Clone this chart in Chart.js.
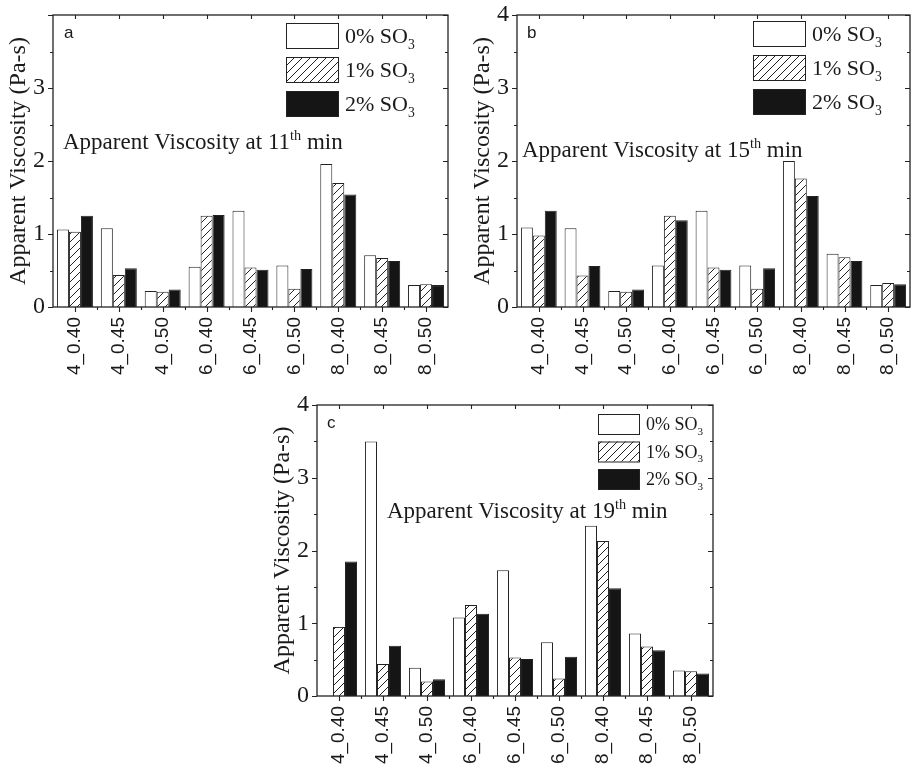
<!DOCTYPE html>
<html lang="en">
<head>
  <meta charset="UTF-8" />
  <title>Apparent Viscosity</title>
  <script src="https://cdn.jsdelivr.net/npm/chart.js"></script>
  <style>
    html, body { margin: 0; padding: 0; background: #fff; }
    body { width: 915px; height: 772px; position: relative; overflow: hidden; }
    canvas { position: absolute; }
  </style>
</head>
<body>
  <canvas id="chartA" width="460" height="385" style="left:0;top:0"></canvas>
  <canvas id="chartB" width="460" height="385" style="left:455px;top:0"></canvas>
  <canvas id="chartC" width="470" height="387" style="left:250px;top:385px"></canvas>

  <script>
    // mix labels (C/S ratio _ w/b ratio)
    const categories = ['4_0.40', '4_0.45', '4_0.50', '6_0.40', '6_0.45', '6_0.50', '8_0.40', '8_0.45', '8_0.50'];
    const seriesLabels = ['0% SO_{3}', '1% SO_{3}', '2% SO_{3}'];

    // 11th min
    const visc11_0 = [1.06, 1.08, 0.22, 0.55, 1.32, 0.57, 1.96, 0.71, 0.30];
    const visc11_1 = [1.03, 0.44, 0.21, 1.25, 0.54, 0.25, 1.70, 0.67, 0.31];
    const visc11_2 = [1.25, 0.53, 0.24, 1.26, 0.51, 0.52, 1.54, 0.63, 0.30];
    // 15th min
    const visc15_0 = [1.09, 1.08, 0.22, 0.57, 1.32, 0.57, 2.00, 0.73, 0.30];
    const visc15_1 = [0.98, 0.43, 0.21, 1.25, 0.54, 0.25, 1.76, 0.68, 0.33];
    const visc15_2 = [1.32, 0.56, 0.24, 1.19, 0.51, 0.53, 1.52, 0.63, 0.31];
    // 19th min (no reading for 0% at 4_0.40)
    const visc19_0 = [null, 3.50, 0.39, 1.08, 1.73, 0.74, 2.34, 0.86, 0.35];
    const visc19_1 = [0.95, 0.44, 0.20, 1.25, 0.53, 0.24, 2.13, 0.68, 0.34];
    const visc19_2 = [1.85, 0.69, 0.23, 1.13, 0.51, 0.54, 1.48, 0.63, 0.31];

    const yTicksA = ['0', '1', '2', '3'];
    const yTicksBC = ['0', '1', '2', '3', '4'];

    const SERIF = '"Liberation Serif", "Times New Roman", serif';
    const SANS = '"Liberation Sans", Arial, sans-serif';
    const INK = '#1a1a1a';

    function hatchPattern() {
      const c = document.createElement('canvas');
      c.width = c.height = 8;
      const g = c.getContext('2d');
      g.fillStyle = '#fff';
      g.fillRect(0, 0, 8, 8);
      g.strokeStyle = '#222';
      g.lineWidth = 1;
      g.beginPath();
      g.moveTo(0, 8); g.lineTo(8, 0);
      g.moveTo(-1, 1); g.lineTo(1, -1);
      g.moveTo(7, 9); g.lineTo(9, 7);
      g.stroke();
      return g.createPattern(c, 'repeat');
    }
    const HATCH = hatchPattern();
    const fills = ['#ffffff', HATCH, '#151515'];

    // text with _{sub} and ^{sup} pieces
    function richText(ctx, str, x, y, size, family) {
      const parts = str.split(/([_^]\{[^}]*\})/);
      for (const p of parts) {
        if (!p) continue;
        let s = size, dy = 0, t = p;
        if (p[0] === '_') { t = p.slice(2, -1); s = size * 0.62; dy = size * 0.26; }
        else if (p[0] === '^') { t = p.slice(2, -1); s = size * 0.62; dy = -size * 0.4; }
        ctx.font = s + 'px ' + family;
        ctx.fillText(t, x, y + dy);
        x += ctx.measureText(t).width;
      }
    }

    // frame, ticks on all sides, y title, panel letter, inner title and legend
    const panelDecor = {
      id: 'panelDecor',
      afterDraw(chart, args, o) {
        const ctx = chart.ctx;
        const a = chart.chartArea;
        const xs = chart.scales.x, ys = chart.scales.y;
        ctx.save();
        ctx.strokeStyle = '#222';
        ctx.lineWidth = 1.3;
        ctx.strokeRect(a.left, a.top, a.right - a.left, a.bottom - a.top);

        ctx.lineWidth = 1.1;
        ctx.beginPath();
        // y ticks: outward on the left, inward on the right
        for (let v = 0; v <= ys.max + 1e-9; v += 0.5) {
          const y = Math.round(ys.getPixelForValue(v)) + 0.5;
          const len = Number.isInteger(v) ? 5 : 3;
          ctx.moveTo(a.left, y); ctx.lineTo(a.left - len, y);
          ctx.moveTo(a.right, y); ctx.lineTo(a.right - len, y);
        }
        // x ticks: centres and boundaries
        const n = categories.length;
        for (let i = 0; i < n; i++) {
          const x = Math.round(xs.getPixelForValue(i)) + 0.5;
          ctx.moveTo(x, a.bottom); ctx.lineTo(x, a.bottom + 5);
          ctx.moveTo(x, a.top); ctx.lineTo(x, a.top + 4);
          if (i < n - 1) {
            const xb = Math.round((xs.getPixelForValue(i) + xs.getPixelForValue(i + 1)) / 2) + 0.5;
            ctx.moveTo(xb, a.bottom); ctx.lineTo(xb, a.bottom + 3);
          }
        }
        ctx.stroke();

        ctx.fillStyle = INK;
        // y title
        ctx.save();
        ctx.translate(a.left - 34, (a.top + a.bottom) / 2);
        ctx.rotate(-Math.PI / 2);
        ctx.font = '24px ' + SERIF;
        ctx.textAlign = 'center';
        ctx.textBaseline = 'middle';
        ctx.fillText('Apparent Viscosity (Pa-s)', 0, 0);
        ctx.restore();

        // panel letter
        ctx.font = '17px ' + SANS;
        ctx.textBaseline = 'middle';
        ctx.fillText(o.letter, a.left + o.letterDx, a.top + o.letterDy);

        // inner title
        ctx.textBaseline = 'alphabetic';
        richText(ctx, o.title, a.left + o.titleDx, a.top + o.titleDy, 23, SERIF);

        // legend
        chart.data.datasets.forEach((ds, i) => {
          const bx = a.left + o.legDx, by = a.top + o.legDy + i * o.legGap;
          ctx.fillStyle = ds.backgroundColor;
          ctx.fillRect(bx, by, o.boxW, o.boxH);
          ctx.strokeStyle = '#222';
          ctx.lineWidth = 1;
          ctx.strokeRect(bx + 0.5, by + 0.5, o.boxW, o.boxH);
          ctx.fillStyle = INK;
          richText(ctx, ds.label, bx + o.boxW + 7, by + o.boxH / 2 + o.legSize * 0.34, o.legSize, SERIF);
        });
        ctx.restore();
      }
    };

    function makePanel(id, values, yLabels, layout, decor) {
      const datasets = values.map((vals, i) => ({
        label: seriesLabels[i],
        data: vals,
        backgroundColor: fills[i],
        borderColor: '#222',
        borderWidth: 1,
        categoryPercentage: 0.82,
        barPercentage: 1.0
      }));
      return new Chart(document.getElementById(id), {
        type: 'bar',
        data: { labels: categories, datasets: datasets },
        plugins: [panelDecor],
        options: {
          responsive: false,
          animation: false,
          devicePixelRatio: 1,
          layout: { padding: { top: layout.top, right: layout.right, left: 0, bottom: 0 } },
          plugins: {
            legend: { display: false },
            tooltip: { enabled: false },
            panelDecor: decor
          },
          scales: {
            x: {
              grid: { display: false, drawTicks: false },
              border: { display: false },
              ticks: {
                autoSkip: false,
                maxRotation: 90,
                minRotation: 90,
                padding: 10,
                color: INK,
                font: { family: SANS, size: 19 }
              },
              afterFit(s) {
                s.height = layout.xh;
                s.paddingLeft = 0; s.paddingRight = 0;
              }
            },
            y: {
              min: 0,
              max: 4,
              grid: { display: false, drawTicks: false },
              border: { display: false },
              ticks: {
                stepSize: 1,
                padding: 8,
                color: INK,
                font: { family: SERIF, size: 24 },
                callback: (v, i) => yLabels[i] ?? ''
              },
              afterFit(s) {
                s.width = layout.yw;
                s.paddingTop = 0; s.paddingBottom = 0;
              }
            }
          }
        }
      });
    }

    makePanel('chartA', [visc11_0, visc11_1, visc11_2], yTicksA,
      { top: 15, right: 12, yw: 53, xh: 78 },
      { letter: 'a', letterDx: 11, letterDy: 18,
        title: 'Apparent Viscosity at 11^{th} min', titleDx: 10, titleDy: 134,
        legDx: 233, legDy: 8, legGap: 34, boxW: 52, boxH: 25, legSize: 22 });

    makePanel('chartB', [visc15_0, visc15_1, visc15_2], yTicksBC,
      { top: 15, right: 5, yw: 62, xh: 78 },
      { letter: 'b', letterDx: 10, letterDy: 18,
        title: 'Apparent Viscosity at 15^{th} min', titleDx: 5, titleDy: 142,
        legDx: 236, legDy: 6, legGap: 34, boxW: 52, boxH: 25, legSize: 22 });

    makePanel('chartC', [visc19_0, visc19_1, visc19_2], yTicksBC,
      { top: 20, right: 7, yw: 67, xh: 76 },
      { letter: 'c', letterDx: 10, letterDy: 18,
        title: 'Apparent Viscosity at 19^{th} min', titleDx: 70, titleDy: 113,
        legDx: 281, legDy: 9, legGap: 27.5, boxW: 41, boxH: 20, legSize: 18 });
  </script>
</body>
</html>
